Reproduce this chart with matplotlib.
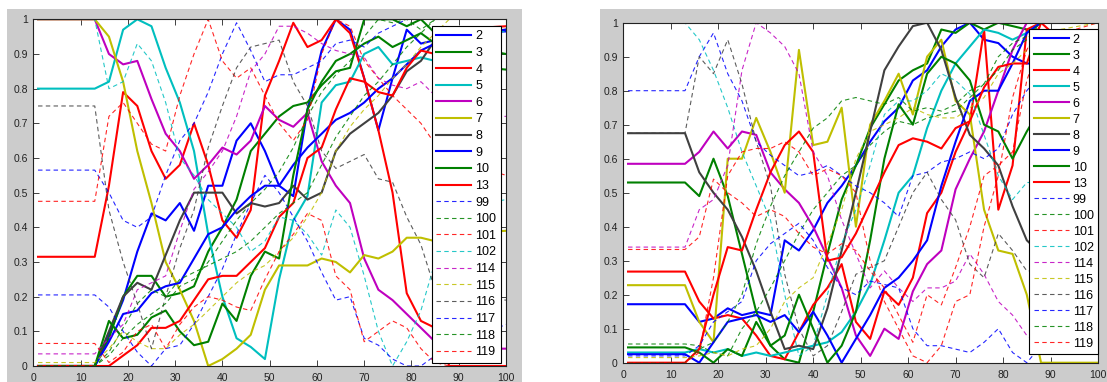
import numpy as np
import matplotlib.pyplot as plt
from matplotlib.patches import Rectangle

plt.rcParams['font.family'] = ['Liberation Sans', 'DejaVu Sans']

# Eje x común (valores leídos cada 3 unidades)
x_grid = [1, 13, 16, 19, 22, 25, 28, 31, 34, 37, 40, 43, 46, 49, 52,
          55, 58, 61, 64, 67, 70, 73, 76, 79, 82, 85, 88, 100]

etiquetas_solidas = ['2', '3', '4', '5', '6', '7', '8', '9', '10', '13']
etiquetas_discontinuas = ['99', '100', '101', '102', '114', '115', '116', '117', '118', '119']
colores = ['#0000ff', '#008000', '#ff0000', '#00bfbf', '#bf00bf',
           '#bfbf00', '#404040', '#0000ff', '#008000', '#ff0000']

# Panel izquierdo
izq_solidas = [
    [0, 0, 0.09, 0.19, 0.33, 0.44, 0.42, 0.47, 0.39, 0.52, 0.52, 0.65, 0.70, 0.62, 0.52, 0.49, 0.74, 0.91, 1.0, 0.97, 0.83, 0.68, 0.83, 0.97, 0.93, 0.94, 0.96, 0.965],  # 2
    [0, 0, 0.08, 0.20, 0.26, 0.26, 0.20, 0.21, 0.23, 0.33, 0.40, 0.48, 0.62, 0.67, 0.72, 0.75, 0.76, 0.81, 0.85, 0.86, 1.0, 1.0, 1.0, 0.98, 1.0, 0.96, 0.93, 0.90],  # 3
    [0.315, 0.315, 0.52, 0.79, 0.75, 0.62, 0.54, 0.58, 0.70, 0.58, 0.42, 0.37, 0.45, 0.78, 0.88, 0.99, 0.92, 0.94, 1.0, 0.96, 0.83, 0.68, 0.50, 0.21, 0.13, 0.11, 0.0, 0.0],  # 4
    [0.8, 0.8, 0.82, 0.97, 1.0, 0.98, 0.86, 0.76, 0.62, 0.38, 0.20, 0.08, 0.055, 0.02, 0.25, 0.42, 0.49, 0.76, 0.81, 0.82, 0.90, 0.92, 0.87, 0.88, 0.89, 0.88, 0.90, 0.97],  # 5
    [1.0, 1.0, 0.90, 0.87, 0.88, 0.77, 0.67, 0.62, 0.54, 0.58, 0.63, 0.61, 0.65, 0.75, 0.71, 0.69, 0.73, 0.59, 0.52, 0.47, 0.31, 0.22, 0.19, 0.15, 0.11, 0.07, 0.05, 0.05],  # 6
    [1.0, 1.0, 0.95, 0.82, 0.62, 0.47, 0.30, 0.22, 0.13, 0.0, 0.02, 0.05, 0.09, 0.22, 0.29, 0.29, 0.29, 0.31, 0.30, 0.27, 0.32, 0.31, 0.33, 0.37, 0.37, 0.36, 0.38, 0.39],  # 7
    [0, 0, 0.10, 0.20, 0.24, 0.22, 0.32, 0.42, 0.50, 0.50, 0.50, 0.44, 0.47, 0.46, 0.47, 0.52, 0.48, 0.50, 0.62, 0.67, 0.70, 0.73, 0.78, 0.85, 0.88, 0.94, 0.96, 0.97],  # 8
    [0, 0, 0.07, 0.15, 0.16, 0.21, 0.23, 0.24, 0.31, 0.38, 0.40, 0.45, 0.49, 0.52, 0.52, 0.58, 0.63, 0.67, 0.71, 0.73, 0.76, 0.80, 0.83, 0.87, 0.91, 0.93, 0.95, 0.97],  # 9
    [0, 0, 0.13, 0.08, 0.09, 0.14, 0.16, 0.10, 0.06, 0.07, 0.18, 0.13, 0.26, 0.33, 0.31, 0.55, 0.74, 0.82, 0.88, 0.90, 0.93, 0.95, 0.92, 0.94, 0.96, 0.93, 0.87, 0.855],  # 10
    [0, 0, 0.0, 0.03, 0.06, 0.11, 0.11, 0.13, 0.19, 0.25, 0.26, 0.26, 0.30, 0.34, 0.43, 0.47, 0.60, 0.63, 0.74, 0.83, 0.82, 0.79, 0.78, 0.86, 0.91, 0.90, 0.97, 0.98],  # 13
]
izq_discontinuas = [
    [0.565, 0.565, 0.50, 0.42, 0.40, 0.43, 0.55, 0.65, 0.70, 0.79, 0.90, 0.99, 0.91, 0.82, 0.84, 0.84, 0.86, 0.88, 0.93, 0.94, 0.92, 0.96, 0.98, 1.0, 1.0, 1.0, 1.0, 1.0],  # 99
    [0, 0, 0.04, 0.11, 0.18, 0.22, 0.20, 0.25, 0.27, 0.29, 0.31, 0.33, 0.36, 0.40, 0.44, 0.47, 0.50, 0.58, 0.66, 0.72, 0.78, 0.82, 0.87, 0.92, 0.96, 1.0, 1.0, 1.0],  # 100
    [0.475, 0.475, 0.72, 0.76, 0.70, 0.64, 0.62, 0.78, 0.90, 1.0, 0.88, 0.83, 0.86, 0.78, 0.70, 0.65, 0.71, 0.90, 1.0, 0.98, 0.88, 0.83, 0.78, 0.74, 0.70, 0.64, 0.60, 0.55],  # 101
    [1.0, 1.0, 0.80, 0.82, 0.93, 0.88, 0.76, 0.60, 0.55, 0.48, 0.44, 0.40, 0.33, 0.36, 0.43, 0.42, 0.38, 0.32, 0.45, 0.40, 0.26, 0.10, 0.0, 0.07, 0.16, 0.30, 0.45, 0.48],  # 102
    [0.035, 0.035, 0.08, 0.12, 0.22, 0.24, 0.26, 0.39, 0.51, 0.56, 0.62, 0.72, 0.85, 0.90, 0.98, 0.98, 0.96, 0.93, 0.91, 0.90, 0.89, 0.83, 0.81, 0.80, 0.82, 0.78, 0.72, 0.72],  # 114
    [0.01, 0.01, 0.05, 0.10, 0.07, 0.05, 0.05, 0.09, 0.12, 0.16, 0.20, 0.24, 0.27, 0.29, 0.33, 0.37, 0.43, 0.50, 0.62, 0.69, 0.74, 0.78, 0.83, 0.87, 0.92, 0.96, 1.0, 1.0],  # 115
    [0.75, 0.75, 0.45, 0.30, 0.18, 0.05, 0.20, 0.34, 0.45, 0.63, 0.75, 0.86, 0.92, 0.93, 0.94, 0.82, 0.75, 0.62, 0.57, 0.59, 0.61, 0.54, 0.53, 0.43, 0.35, 0.22, 0.20, 0.19],  # 116
    [0.205, 0.205, 0.17, 0.10, 0.04, 0.0, 0.05, 0.06, 0.12, 0.20, 0.28, 0.38, 0.47, 0.55, 0.50, 0.43, 0.36, 0.27, 0.19, 0.20, 0.08, 0.06, 0.02, 0.0, 0.0, 0.03, 0.05, 0.12],  # 117
    [0, 0, 0.03, 0.08, 0.12, 0.15, 0.18, 0.23, 0.25, 0.30, 0.36, 0.42, 0.47, 0.51, 0.56, 0.63, 0.72, 0.79, 0.84, 0.88, 0.95, 1.0, 0.99, 1.0, 0.97, 1.0, 1.0, 1.0],  # 118
    [0.065, 0.065, 0.01, 0.04, 0.10, 0.12, 0.05, 0.12, 0.17, 0.20, 0.19, 0.17, 0.16, 0.25, 0.33, 0.38, 0.44, 0.42, 0.26, 0.22, 0.07, 0.10, 0.13, 0.11, 0.05, 0.01, 0.0, 0.0],  # 119
]

# Panel derecho
der_solidas = [
    [0.172, 0.172, 0.12, 0.13, 0.16, 0.14, 0.15, 0.14, 0.36, 0.33, 0.39, 0.47, 0.52, 0.58, 0.65, 0.71, 0.75, 0.83, 0.86, 0.93, 0.98, 1.0, 0.95, 0.94, 0.90, 0.88, 0.88, 0.83],  # 2
    [0.53, 0.53, 0.49, 0.60, 0.49, 0.32, 0.15, 0.05, 0.01, 0.0, 0.15, 0.32, 0.48, 0.58, 0.69, 0.76, 0.83, 0.86, 0.88, 0.98, 0.97, 1.0, 0.98, 1.0, 0.99, 0.98, 0.95, 0.92],  # 3
    [0.268, 0.268, 0.18, 0.13, 0.14, 0.13, 0.08, 0.02, 0.01, 0.09, 0.17, 0.22, 0.29, 0.12, 0.07, 0.21, 0.17, 0.25, 0.44, 0.50, 0.62, 0.71, 0.98, 0.45, 0.58, 0.98, 1.0, 0.85],  # 4
    [0.03, 0.03, 0.04, 0.03, 0.04, 0.02, 0.03, 0.02, 0.03, 0.04, 0.05, 0.06, 0.09, 0.15, 0.23, 0.36, 0.50, 0.55, 0.69, 0.80, 0.88, 0.93, 0.98, 0.97, 0.95, 0.97, 1.0, 1.0],  # 5
    [0.585, 0.585, 0.62, 0.68, 0.63, 0.68, 0.67, 0.56, 0.51, 0.47, 0.40, 0.31, 0.22, 0.08, 0.02, 0.10, 0.07, 0.21, 0.29, 0.33, 0.51, 0.60, 0.68, 0.80, 0.92, 1.0, 1.0, 1.0],  # 6
    [0.228, 0.228, 0.12, 0.06, 0.60, 0.60, 0.72, 0.62, 0.50, 0.92, 0.64, 0.65, 0.75, 0.40, 0.70, 0.77, 0.85, 0.73, 0.90, 0.95, 0.77, 0.73, 0.45, 0.33, 0.32, 0.20, 0.0, 0.0],  # 7
    [0.675, 0.675, 0.56, 0.50, 0.45, 0.37, 0.27, 0.15, 0.04, 0.05, 0.04, 0.16, 0.33, 0.50, 0.68, 0.86, 0.93, 0.99, 1.0, 0.92, 0.78, 0.67, 0.63, 0.58, 0.46, 0.36, 0.32, 0.32],  # 8
    [0.025, 0.025, 0.0, 0.06, 0.12, 0.13, 0.14, 0.12, 0.14, 0.09, 0.15, 0.08, 0.0, 0.07, 0.14, 0.22, 0.25, 0.30, 0.36, 0.52, 0.65, 0.77, 0.80, 0.80, 0.88, 0.97, 1.0, 1.0],  # 9
    [0.045, 0.045, 0.03, 0.0, 0.04, 0.02, 0.12, 0.05, 0.08, 0.20, 0.10, 0.0, 0.05, 0.15, 0.36, 0.60, 0.76, 0.70, 0.85, 0.90, 0.88, 0.83, 0.70, 0.68, 0.60, 0.68, 0.75, 0.75],  # 10
    [0, 0, 0.04, 0.20, 0.34, 0.33, 0.45, 0.56, 0.64, 0.68, 0.62, 0.30, 0.31, 0.38, 0.47, 0.56, 0.64, 0.66, 0.65, 0.63, 0.69, 0.71, 0.81, 0.87, 0.88, 0.88, 1.0, 1.0],  # 13
]
der_discontinuas = [
    [0.8, 0.8, 0.90, 0.97, 0.85, 0.77, 0.65, 0.61, 0.58, 0.55, 0.56, 0.58, 0.55, 0.52, 0.50, 0.47, 0.43, 0.55, 0.56, 0.59, 0.60, 0.62, 0.60, 0.63, 0.73, 0.80, 0.85, 0.85],  # 99
    [0.055, 0.055, 0.05, 0.03, 0.02, 0.10, 0.15, 0.22, 0.30, 0.38, 0.45, 0.50, 0.55, 0.58, 0.64, 0.68, 0.71, 0.70, 0.72, 0.73, 0.74, 0.78, 0.82, 0.86, 0.92, 0.95, 1.0, 1.0],  # 100
    [0.333, 0.333, 0.37, 0.54, 0.50, 0.47, 0.43, 0.45, 0.43, 0.38, 0.34, 0.32, 0.35, 0.33, 0.27, 0.22, 0.14, 0.06, 0.20, 0.17, 0.28, 0.40, 0.55, 0.58, 0.62, 0.83, 0.95, 1.0],  # 101
    [1.0, 1.0, 0.95, 0.86, 0.75, 0.62, 0.52, 0.42, 0.20, 0.02, 0.05, 0.20, 0.35, 0.45, 0.58, 0.73, 0.77, 0.77, 0.80, 0.85, 0.83, 0.79, 0.67, 0.55, 0.48, 0.53, 0.53, 0.50],  # 102
    [0.34, 0.34, 0.45, 0.48, 0.58, 0.86, 1.0, 0.97, 0.93, 0.85, 0.62, 0.55, 0.42, 0.32, 0.22, 0.27, 0.22, 0.18, 0.22, 0.22, 0.24, 0.32, 0.26, 0.18, 0.14, 0.08, 0.05, 0.05],  # 114
    [0.015, 0.015, 0.02, 0.03, 0.02, 0.04, 0.05, 0.10, 0.18, 0.22, 0.25, 0.35, 0.45, 0.60, 0.68, 0.70, 0.72, 0.75, 0.73, 0.72, 0.72, 0.75, 0.78, 0.85, 0.88, 0.92, 0.97, 1.0],  # 115
    [0.675, 0.675, 0.90, 0.85, 0.95, 0.82, 0.65, 0.52, 0.26, 0.10, 0.02, 0.05, 0.15, 0.26, 0.28, 0.30, 0.40, 0.50, 0.56, 0.48, 0.42, 0.29, 0.25, 0.38, 0.33, 0.27, 0.27, 0.27],  # 116
    [0.02, 0.02, 0.05, 0.12, 0.15, 0.18, 0.30, 0.35, 0.38, 0.41, 0.36, 0.28, 0.22, 0.20, 0.24, 0.23, 0.22, 0.10, 0.05, 0.05, 0.04, 0.03, 0.06, 0.10, 0.03, 0.0, 0.05, 0.17],  # 117
    [0, 0, 0.04, 0.06, 0.12, 0.20, 0.35, 0.46, 0.55, 0.62, 0.69, 0.72, 0.77, 0.78, 0.77, 0.76, 0.78, 0.74, 0.75, 0.74, 0.76, 0.80, 0.82, 0.90, 0.94, 0.96, 1.0, 1.0],  # 118
    [0, 0, 0.03, 0.25, 0.55, 0.62, 0.63, 0.63, 0.65, 0.62, 0.55, 0.57, 0.55, 0.50, 0.30, 0.18, 0.10, 0.02, 0.0, 0.05, 0.18, 0.20, 0.40, 0.55, 0.78, 0.92, 1.0, 1.0],  # 119
]

gris_fondo = '#cccccc'


def dibujar_panel(ax, solidas, discontinuas, leyenda_top, espaciado):
    for fila, color, etiqueta in zip(solidas, colores, etiquetas_solidas):
        ax.plot(x_grid, fila, color=color, lw=1.5, label=etiqueta)
    for fila, color, etiqueta in zip(discontinuas, colores, etiquetas_discontinuas):
        ax.plot(x_grid, fila, color=color, lw=0.8, ls=(0, (4, 3)), alpha=0.85, label=etiqueta)

    ax.set_facecolor('white')
    ax.set_xlim(0, 100)
    ax.set_ylim(0, 1)
    ax.set_xticks(np.arange(0, 101, 10))
    ax.set_yticks(np.arange(0, 1.01, 0.1))
    ax.set_yticklabels(['0', '0.1', '0.2', '0.3', '0.4', '0.5', '0.6', '0.7', '0.8', '0.9', '1'])
    ax.tick_params(direction='in', top=True, right=True, length=4, width=0.6, labelsize=7.5, colors='#222222')
    ax.tick_params(axis='x', pad=5)
    ax.tick_params(axis='y', pad=4)
    for lado in ax.spines.values():
        lado.set_linewidth(0.8)
        lado.set_color('#222222')

    leg = ax.legend(loc='upper right', bbox_to_anchor=leyenda_top, borderaxespad=0,
                    fontsize=9, handlelength=2.8, handletextpad=0.32,
                    labelspacing=espaciado, borderpad=0.35, fancybox=False,
                    framealpha=1, edgecolor='black')
    leg.get_frame().set_linewidth(0.8)


fig = plt.figure(figsize=(11.07, 3.82), dpi=100)

# Marcos grises de cada figura (detrás de los ejes)
fig.add_artist(Rectangle((7 / 1107, 0), 515 / 1107, 373 / 382, transform=fig.transFigure,
                         facecolor=gris_fondo, edgecolor='none', zorder=-10))
fig.add_artist(Rectangle((600 / 1107, 0), 507 / 1107, 373 / 382, transform=fig.transFigure,
                         facecolor=gris_fondo, edgecolor='none', zorder=-10))

ax1 = fig.add_axes([33.3 / 1107, 16 / 382, 472.7 / 1107, 346.7 / 382])
ax2 = fig.add_axes([623.3 / 1107, 19.3 / 382, 474.7 / 1107, 340 / 382])

dibujar_panel(ax1, izq_solidas, izq_discontinuas, (0.989, 0.981), 0.37)
dibujar_panel(ax2, der_solidas, der_discontinuas, (1.0, 0.981), 0.32)

plt.savefig('out.png', dpi=100)
plt.close()
